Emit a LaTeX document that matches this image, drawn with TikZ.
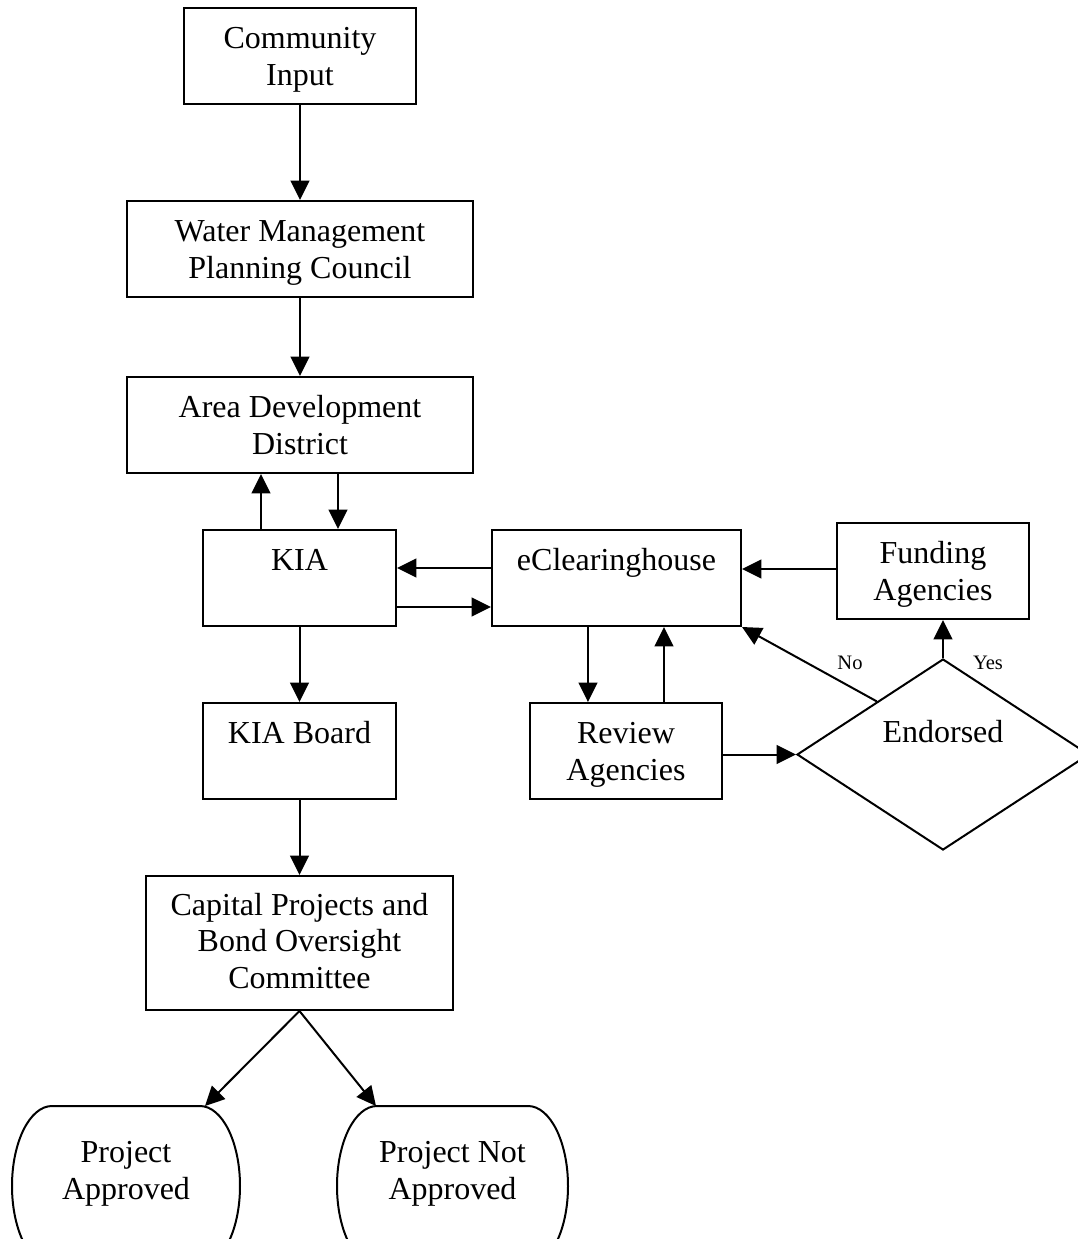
\documentclass[tikz,border=0pt]{standalone}
\usepackage{fontspec}
\setmainfont{Liberation Serif}
\usetikzlibrary{arrows.meta,shapes.geometric,calc}
\newcommand\myfls{\rule{0pt}{31pt}}
\begin{document}
\begin{tikzpicture}[x=0.75pt,y=-0.75pt,
  box/.style n args={2}{draw, line width=1.5pt, inner sep=0pt, minimum width=#1*0.75pt, minimum height=#2*0.75pt},
  lbl/.style={align=center, inner sep=0pt, anchor=north, font=\fontsize{24}{28}\selectfont},
  small/.style={inner sep=0pt, anchor=base, font=\fontsize{15.4}{18}\selectfont},
  arr/.style={-{Triangle[length=14.5pt,width=14pt]}, line width=1.5pt},
  term/.style={line width=1.5pt}]
\fill[white] (0,0) rectangle (1078,1239);
\useasboundingbox (0,0) rectangle (1078,1239);
\clip (0,0) rectangle (1078,1239);

% boxes
\node[box={232}{96}] (ci) at (300,56) {};
\node[lbl] (ci-t) at (ci.north) {\myfls Community\\Input};
\node[box={346}{96}] (wm) at (300,249) {};
\node[lbl] (wm-t) at (wm.north) {\myfls Water Management\\Planning Council};
\node[box={346}{96}] (add) at (300,425) {};
\node[lbl] (add-t) at (add.north) {\myfls Area Development\\District};
\node[box={193}{96}] (kia) at (299.5,578) {};
\node[lbl] (kia-t) at (kia.north) {\myfls KIA};
\node[box={193}{96}] (kb) at (299.5,751) {};
\node[lbl] (kb-t) at (kb.north) {\myfls KIA Board};
\node[box={307}{134}] (cp) at (299.5,943) {};
\node[lbl, font=\fontsize{24}{27.4}\selectfont] (cp-t) at ([yshift=1pt]cp.north) {\myfls Capital Projects and\\Bond Oversight\\Committee};
\node[box={249}{96}] (ec) at (616.5,578) {};
\node[lbl] (ec-t) at (ec.north) {\myfls eClearinghouse};
\node[box={192}{96}] (fa) at (933,571) {};
\node[lbl] (fa-t) at (fa.north) {\myfls Funding\\Agencies};
\node[box={192}{96}] (ra) at (626,751) {};
\node[lbl] (ra-t) at (ra.north) {\myfls Review\\Agencies};
\node[draw, diamond, line width=1.5pt, inner sep=0pt, minimum width=292*0.75pt, minimum height=191*0.75pt] (d) at (943,754.5) {};
\node[lbl] (d-t) at (943,701) {\myfls Endorsed};

% terminators
\draw[term] (52,1106) -- (200,1106) arc[start angle=90, end angle=-90, x radius=30pt, y radius=60pt] -- (52,1266) arc[start angle=270, end angle=90, x radius=30pt, y radius=60pt] -- cycle;
\node[lbl] (pa) at (126,1121) {\myfls Project\\Approved};
\draw[term] (377,1106) -- (528,1106) arc[start angle=90, end angle=-90, x radius=30pt, y radius=60pt] -- (377,1266) arc[start angle=270, end angle=90, x radius=30pt, y radius=60pt] -- cycle;
\node[lbl] (pn) at (452.5,1121) {\myfls Project Not\\Approved};
\coordinate (pa-in) at (205,1106);
\coordinate (pn-in) at (376,1106);

% connectors
\draw[arr] (ci) -- (wm);
\draw[arr] (wm) -- (add);
\coordinate (k1) at ([xshift=-28.9pt]kia.north);
\draw[arr] (k1) -- (k1 |- add.south);
\coordinate (a1) at ([xshift=28.5pt]add.south);
\draw[arr] (a1) -- (a1 |- kia.north);
\coordinate (e1) at ([yshift=7.5pt]ec.west);
\draw[arr] (e1) -- (e1 -| kia.east);
\coordinate (k2) at ([yshift=-21.75pt]kia.east);
\draw[arr] (k2) -- (k2 -| ec.west);
\draw[arr] (kia) -- (kb);
\draw[arr] (kb) -- (cp);
\coordinate (e2) at ([xshift=-21.4pt]ec.south);
\draw[arr] (e2) -- (e2 |- ra.north);
\coordinate (r1) at ([xshift=28.5pt]ra.north);
\draw[arr] (r1) -- (r1 |- ec.south);
\coordinate (f1) at ([yshift=1.5pt]fa.west);
\draw[arr] (f1) -- (f1 -| ec.east);
\draw[arr] (d.west -| ra.east) -- (d.west);
\draw[arr] (d.north) -- (d.north |- fa.south);
\coordinate (dn) at ($(d.north)!0.45!(d.west)$);
\draw[arr] (dn) -- (ec.south east);
\draw[arr] (cp.south) -- (pa-in);
\draw[arr] (cp.south) -- (pn-in);

\node[small] (no) at (850,669) {No};
\node[small] (yes) at (988,669) {Yes};
\end{tikzpicture}
\end{document}
